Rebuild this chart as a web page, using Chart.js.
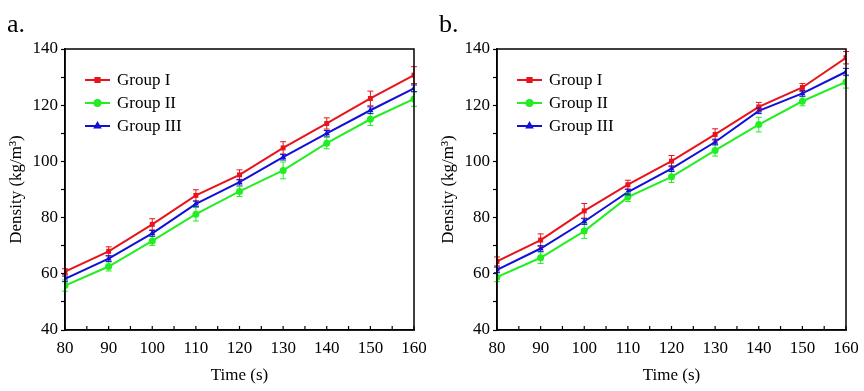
<!DOCTYPE html>
<html lang="en">
<head>
<meta charset="UTF-8">
<title>Density vs Time</title>
<script src="https://cdn.jsdelivr.net/npm/chart.js@4.4.1/dist/chart.umd.min.js"></script>
<style>
    body { margin: 0; background: #fff; }
    .row { display: flex; width: 864px; height: 391px; }
    .cell { position: relative; width: 432px; height: 391px; }
</style>
</head>
<body>
<div class="row">
    <div class="cell"><canvas id="chartA" width="432" height="391"></canvas></div>
    <div class="cell"><canvas id="chartB" width="432" height="391"></canvas></div>
</div>

<script>
    // --- DATA ---
    const times = [80, 90, 100, 110, 120, 130, 140, 150, 160];
    const groupNames = ['Group I', 'Group II', 'Group III'];

    // panel a
    const aGroup1 = [60.8, 68.0, 77.6, 87.9, 95.2, 104.8, 113.5, 122.4, 130.7];
    const aGroup2 = [55.8, 62.6, 71.7, 81.2, 89.3, 96.8, 106.5, 115.0, 122.2];
    const aGroup3 = [58.2, 65.4, 74.4, 84.9, 92.6, 101.5, 110.0, 118.2, 126.0];
    const aErr1 = [1.0, 1.6, 2.0, 2.0, 1.8, 2.2, 2.0, 2.6, 3.0];
    const aErr2 = [2.0, 1.6, 1.6, 2.4, 1.8, 3.0, 2.0, 2.2, 2.6];
    const aErr3 = [1.0, 1.0, 1.0, 1.0, 1.0, 1.0, 1.0, 1.2, 1.2];

    // panel b
    const bGroup1 = [64.4, 72.0, 82.4, 91.7, 100.1, 109.6, 119.4, 126.3, 136.9];
    const bGroup2 = [58.8, 65.7, 75.2, 87.3, 94.5, 103.9, 113.1, 121.4, 128.3];
    const bGroup3 = [61.4, 69.0, 78.6, 89.1, 97.4, 106.9, 118.0, 124.2, 131.9];
    const bErr1 = [1.6, 2.2, 2.6, 1.6, 2.0, 2.0, 1.6, 1.4, 2.2];
    const bErr2 = [1.6, 2.0, 2.6, 1.6, 2.0, 2.0, 2.6, 1.6, 2.2];
    const bErr3 = [1.0, 1.0, 1.0, 1.0, 1.0, 1.0, 1.0, 1.0, 1.2];

    const yTicksMin = 40, yTicksMax = 140;
    const xTicksMin = 80, xTicksMax = 160;

    const colors = ['#e8141b', '#22ee22', '#1010d8'];
    const markers = ['rect', 'circle', 'triangle'];
    const FONT = 'Liberation Serif';

    // error bars, frame, inward x ticks, legend and panel letter
    const decorPlugin = {
        id: 'decor',
        afterDatasetsDraw(chart) {
            const ctx = chart.ctx;
            const xs = chart.scales.x, ys = chart.scales.y;
            const errs = chart.options.plugins.decor.errors;
            ctx.save();
            chart.data.datasets.forEach((ds, i) => {
                ctx.strokeStyle = ds.borderColor;
                ctx.lineWidth = 1;
                ds.data.forEach((p, j) => {
                    const px = xs.getPixelForValue(p.x);
                    const top = ys.getPixelForValue(p.y + errs[i][j]);
                    const bot = ys.getPixelForValue(p.y - errs[i][j]);
                    ctx.beginPath();
                    ctx.moveTo(px, top); ctx.lineTo(px, bot);
                    ctx.moveTo(px - 3, top); ctx.lineTo(px + 3, top);
                    ctx.moveTo(px - 3, bot); ctx.lineTo(px + 3, bot);
                    ctx.stroke();
                });
            });
            ctx.restore();
        },
        afterDraw(chart) {
            const ctx = chart.ctx;
            const a = chart.chartArea;
            const xs = chart.scales.x;
            ctx.save();
            // frame
            ctx.strokeStyle = '#000';
            ctx.lineWidth = 1.5;
            ctx.strokeRect(a.left, a.top, a.right - a.left, a.bottom - a.top);
            // inward ticks on x
            ctx.lineWidth = 1.2;
            xs.ticks.forEach(t => {
                const px = xs.getPixelForValue(t.value);
                ctx.beginPath();
                ctx.moveTo(px, a.bottom);
                ctx.lineTo(px, a.bottom - 4);
                ctx.stroke();
            });
            // legend
            ctx.font = '17px "' + FONT + '"';
            ctx.textBaseline = 'middle';
            chart.data.datasets.forEach((ds, i) => {
                const y = a.top + 31 + i * 23;
                const x0 = a.left + 20, x1 = a.left + 45;
                ctx.strokeStyle = ds.borderColor;
                ctx.lineWidth = 2;
                ctx.beginPath(); ctx.moveTo(x0, y); ctx.lineTo(x1, y); ctx.stroke();
                Chart.helpers.drawPoint(ctx, {
                    pointStyle: ds.pointStyle, radius: 3, rotation: 0,
                    borderWidth: 1
                }, (x0 + x1) / 2, y);
                ctx.fillStyle = ds.borderColor;
                ctx.fill();
                ctx.fillStyle = '#000';
                ctx.fillText(ds.label, x1 + 7, y + 1);
            });
            // panel letter
            ctx.font = '26px "' + FONT + '"';
            ctx.textBaseline = 'alphabetic';
            ctx.fillStyle = '#000';
            ctx.fillText(chart.options.plugins.decor.letter, 7, 32);
            ctx.restore();
        }
    };

    function makeChart(id, letter, series, errors) {
        const datasets = series.map((vals, i) => ({
            label: groupNames[i],
            data: vals.map((v, j) => ({ x: times[j], y: v })),
            borderColor: colors[i],
            backgroundColor: colors[i],
            borderWidth: 2,
            pointStyle: markers[i],
            pointRadius: 3.5,
            pointBorderWidth: 0,
            tension: 0
        }));
        return new Chart(document.getElementById(id), {
            type: 'line',
            data: { datasets: datasets },
            plugins: [decorPlugin],
            options: {
                responsive: false,
                animation: false,
                layout: { padding: { top: 49, right: 18, bottom: 0, left: 0 } },
                plugins: {
                    legend: { display: false },
                    tooltip: { enabled: false },
                    decor: { letter: letter, errors: errors }
                },
                scales: {
                    x: {
                        type: 'linear',
                        min: xTicksMin, max: xTicksMax,
                        afterFit: s => { s.height = 61; s.paddingLeft = 0; s.paddingRight = 0; },
                        grid: { display: true, drawOnChartArea: false, drawTicks: false },
                        border: { color: '#000', width: 1.5 },
                        ticks: {
                            stepSize: 5,
                            padding: 8,
                            autoSkip: false,
                            maxRotation: 0,
                            color: '#000',
                            font: { family: FONT, size: 17 },
                            callback: v => (v % 10 === 0 ? String(v) : '')
                        },
                        title: {
                            display: true,
                            text: 'Time (s)',
                            color: '#000',
                            font: { family: FONT, size: 17 },
                            padding: { top: 0, bottom: 5 }
                        }
                    },
                    y: {
                        min: yTicksMin, max: yTicksMax,
                        afterFit: s => { s.width = 65; s.paddingTop = 0; s.paddingBottom = 0; },
                        grid: { drawOnChartArea: false, tickLength: 4, color: '#000', tickWidth: 1.2 },
                        border: { color: '#000', width: 1.5 },
                        ticks: {
                            stepSize: 10,
                            padding: 3,
                            autoSkip: false,
                            color: '#000',
                            font: { family: FONT, size: 17 },
                            callback: v => (v % 20 === 0 ? String(v) : '')
                        },
                        title: {
                            display: true,
                            text: 'Density (kg/m\u00B3)',
                            color: '#000',
                            font: { family: FONT, size: 17 },
                            padding: { top: 6, bottom: 0 }
                        }
                    }
                }
            }
        });
    }

    makeChart('chartA', 'a.', [aGroup1, aGroup2, aGroup3], [aErr1, aErr2, aErr3]);
    makeChart('chartB', 'b.', [bGroup1, bGroup2, bGroup3], [bErr1, bErr2, bErr3]);
</script>
</body>
</html>
